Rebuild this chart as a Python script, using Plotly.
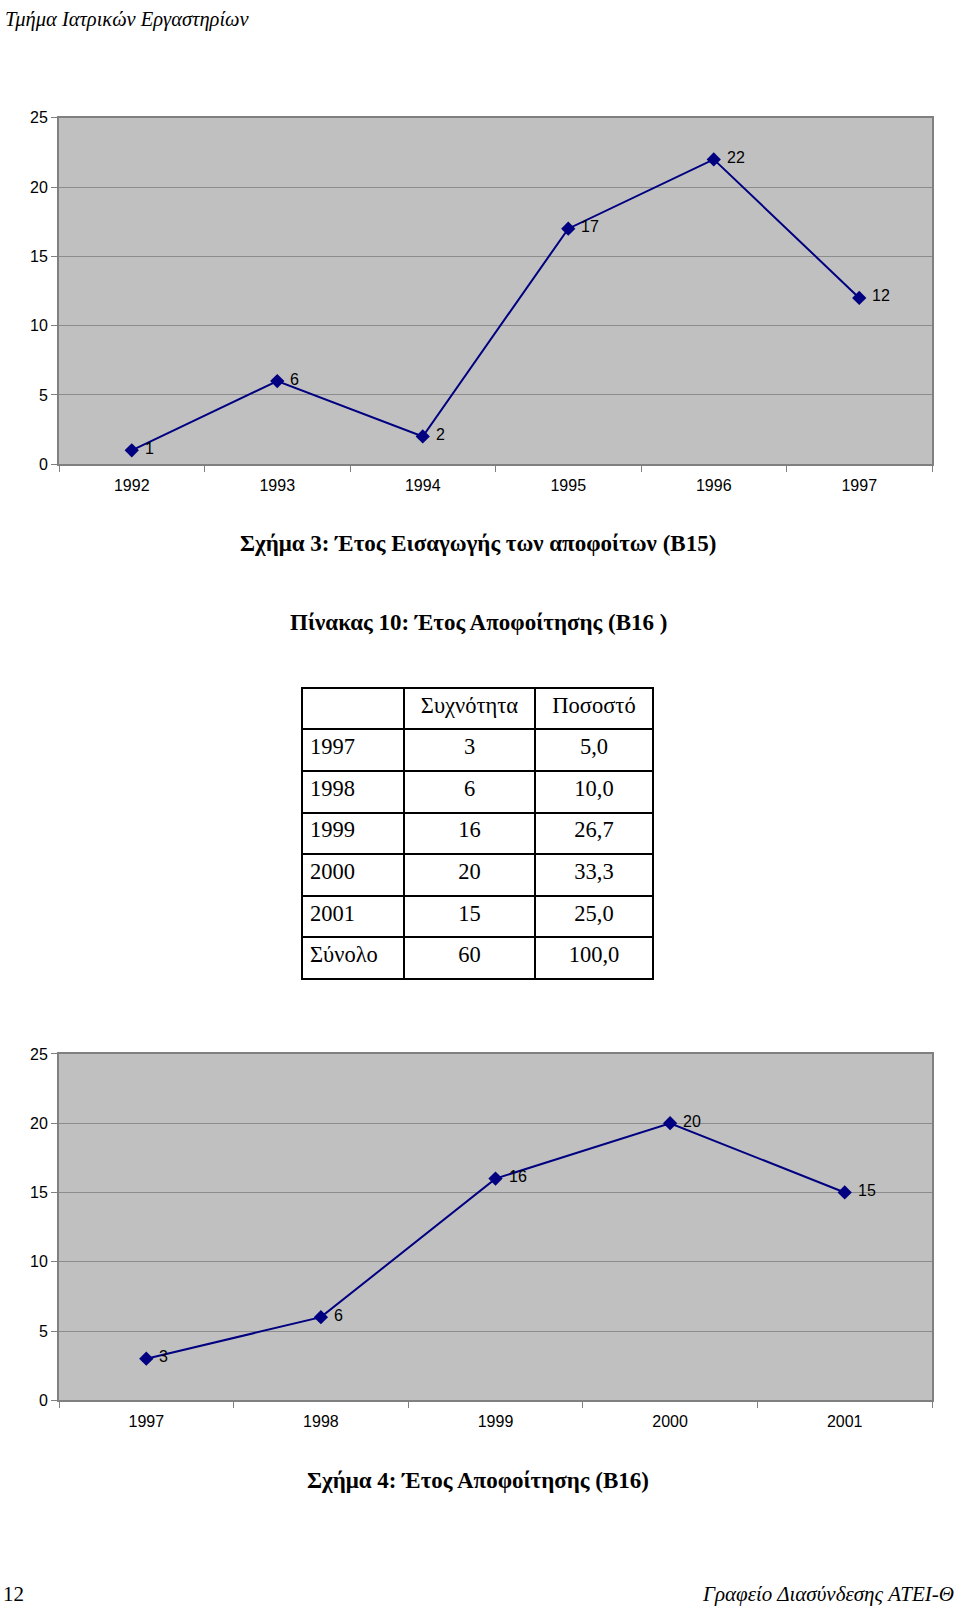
import plotly.graph_objects as go

# ---- data ----
years_entry = ["1992", "1993", "1994", "1995", "1996", "1997"]
count_entry = [1, 6, 2, 17, 22, 12]

years_grad = ["1997", "1998", "1999", "2000", "2001"]
count_grad = [3, 6, 16, 20, 15]

table_rows = ["1997", "1998", "1999", "2000", "2001", "Σύνολο"]
table_freq = ["3", "6", "16", "20", "15", "60"]
table_pct = ["5,0", "10,0", "26,7", "33,3", "25,0", "100,0"]
table_header = ["", "Συχνότητα", "Ποσοστό"]

y_ticks = [0, 5, 10, 15, 20, 25]

W, H = 960, 1624
NAVY = "#000080"
GRID = "#8c8c8c"
FRAME = "#808080"
SANS = "Liberation Sans, Arial, sans-serif"
SERIF = "Liberation Serif, Times New Roman, serif"


def py(p):
    return 1 - p / H


def px_x(p):
    return p / W


fig = go.Figure()

for xs, ys, xa, ya in [(years_entry, count_entry, "x", "y"),
                       (years_grad, count_grad, "x2", "y2")]:
    fig.add_trace(go.Scatter(
        x=xs, y=ys, xaxis=xa, yaxis=ya, mode="lines+markers",
        line=dict(color=NAVY, width=2),
        marker=dict(symbol="diamond", size=11, color=NAVY),
        cliponaxis=False, showlegend=False, hoverinfo="skip",
    ))

fig.add_trace(go.Table(
    domain=dict(x=[px_x(302), px_x(653)], y=[py(984), py(687)]),
    columnwidth=[102, 131, 118],
    header=dict(values=table_header, height=41.6,
                align=["left", "center", "center"],
                fill_color="white", line=dict(color="black", width=2),
                font=dict(family=SERIF, size=22.5, color="black")),
    cells=dict(values=[table_rows, table_freq, table_pct], height=41.6,
               align=["left", "center", "center"],
               fill_color="white", line=dict(color="black", width=2),
               font=dict(family=SERIF, size=22.5, color="black")),
))

xaxis_common = dict(
    type="category", tickson="boundaries", ticks="outside", ticklen=6,
    tickcolor=FRAME, showline=True, linecolor=FRAME, linewidth=2, mirror=True,
    showgrid=False, tickfont=dict(family=SANS, size=16, color="black"),
    ticklabelstandoff=6, fixedrange=True,
)
yaxis_common = dict(
    range=[0, 25], tickvals=y_ticks, ticks="outside", ticklen=6, tickcolor=FRAME,
    showline=True, linecolor=FRAME, linewidth=2, mirror=True,
    showgrid=True, gridcolor=GRID, gridwidth=1, zeroline=False,
    tickfont=dict(family=SANS, size=16, color="black"), fixedrange=True,
)

xd = [px_x(59), px_x(932)]
fig.update_layout(
    width=W, height=H,
    margin=dict(l=0, r=0, t=0, b=0),
    paper_bgcolor="white", plot_bgcolor="#c0c0c0",
    xaxis=dict(domain=xd, anchor="y", range=[-0.5, len(years_entry) - 0.5], **xaxis_common),
    yaxis=dict(domain=[py(461), py(111)], anchor="x", **yaxis_common),
    xaxis2=dict(domain=xd, anchor="y2", range=[-0.5, len(years_grad) - 0.5], **xaxis_common),
    yaxis2=dict(domain=[py(1407), py(1057)], anchor="x2", **yaxis_common),
)

annotations = [
    dict(text="<i>Τμήμα Ιατρικών Εργαστηρίων</i>", x=px_x(3), y=py(12),
         xanchor="left", yanchor="middle", font=dict(family=SERIF, size=20.5)),
    dict(text="<b>Σχήμα 3: Έτος Εισαγωγής των αποφοίτων (B15)</b>", x=px_x(478), y=py(541),
         xanchor="center", yanchor="middle", font=dict(family=SERIF, size=23)),
    dict(text="<b>Πίνακας 10: Έτος Αποφοίτησης (B16 )</b>", x=px_x(478), y=py(621),
         xanchor="center", yanchor="middle", font=dict(family=SERIF, size=23)),
    dict(text="<b>Σχήμα 4: Έτος Αποφοίτησης (B16)</b>", x=px_x(478), y=py(1488),
         xanchor="center", yanchor="middle", font=dict(family=SERIF, size=23)),
    dict(text="12", x=px_x(1), y=py(1603),
         xanchor="left", yanchor="middle", font=dict(family=SERIF, size=21)),
    dict(text="<i>Γραφείο Διασύνδεσης ATEI-Θ</i>", x=px_x(956), y=py(1603),
         xanchor="right", yanchor="middle", font=dict(family=SERIF, size=21)),
]
for a in annotations:
    a.update(xref="paper", yref="paper", showarrow=False)
    a["font"]["color"] = "black"

# data labels, placed from the data arrays through the axes (category index)
for xs, ys, xa, ya in [(years_entry, count_entry, "x", "y"),
                       (years_grad, count_grad, "x2", "y2")]:
    for i, yv in enumerate(ys):
        annotations.append(dict(
            text=str(yv), x=i, y=yv, xref=xa, yref=ya, showarrow=False,
            xanchor="left", yanchor="middle", xshift=11, yshift=2,
            font=dict(family=SANS, size=16, color="black"),
        ))

fig.update_layout(annotations=annotations)

fig.write_html(
    "out.html",
    config={"displayModeBar": False, "staticPlot": True},
    post_script="document.body.style.margin='0';"
                "document.documentElement.style.overflow='hidden';",
)
